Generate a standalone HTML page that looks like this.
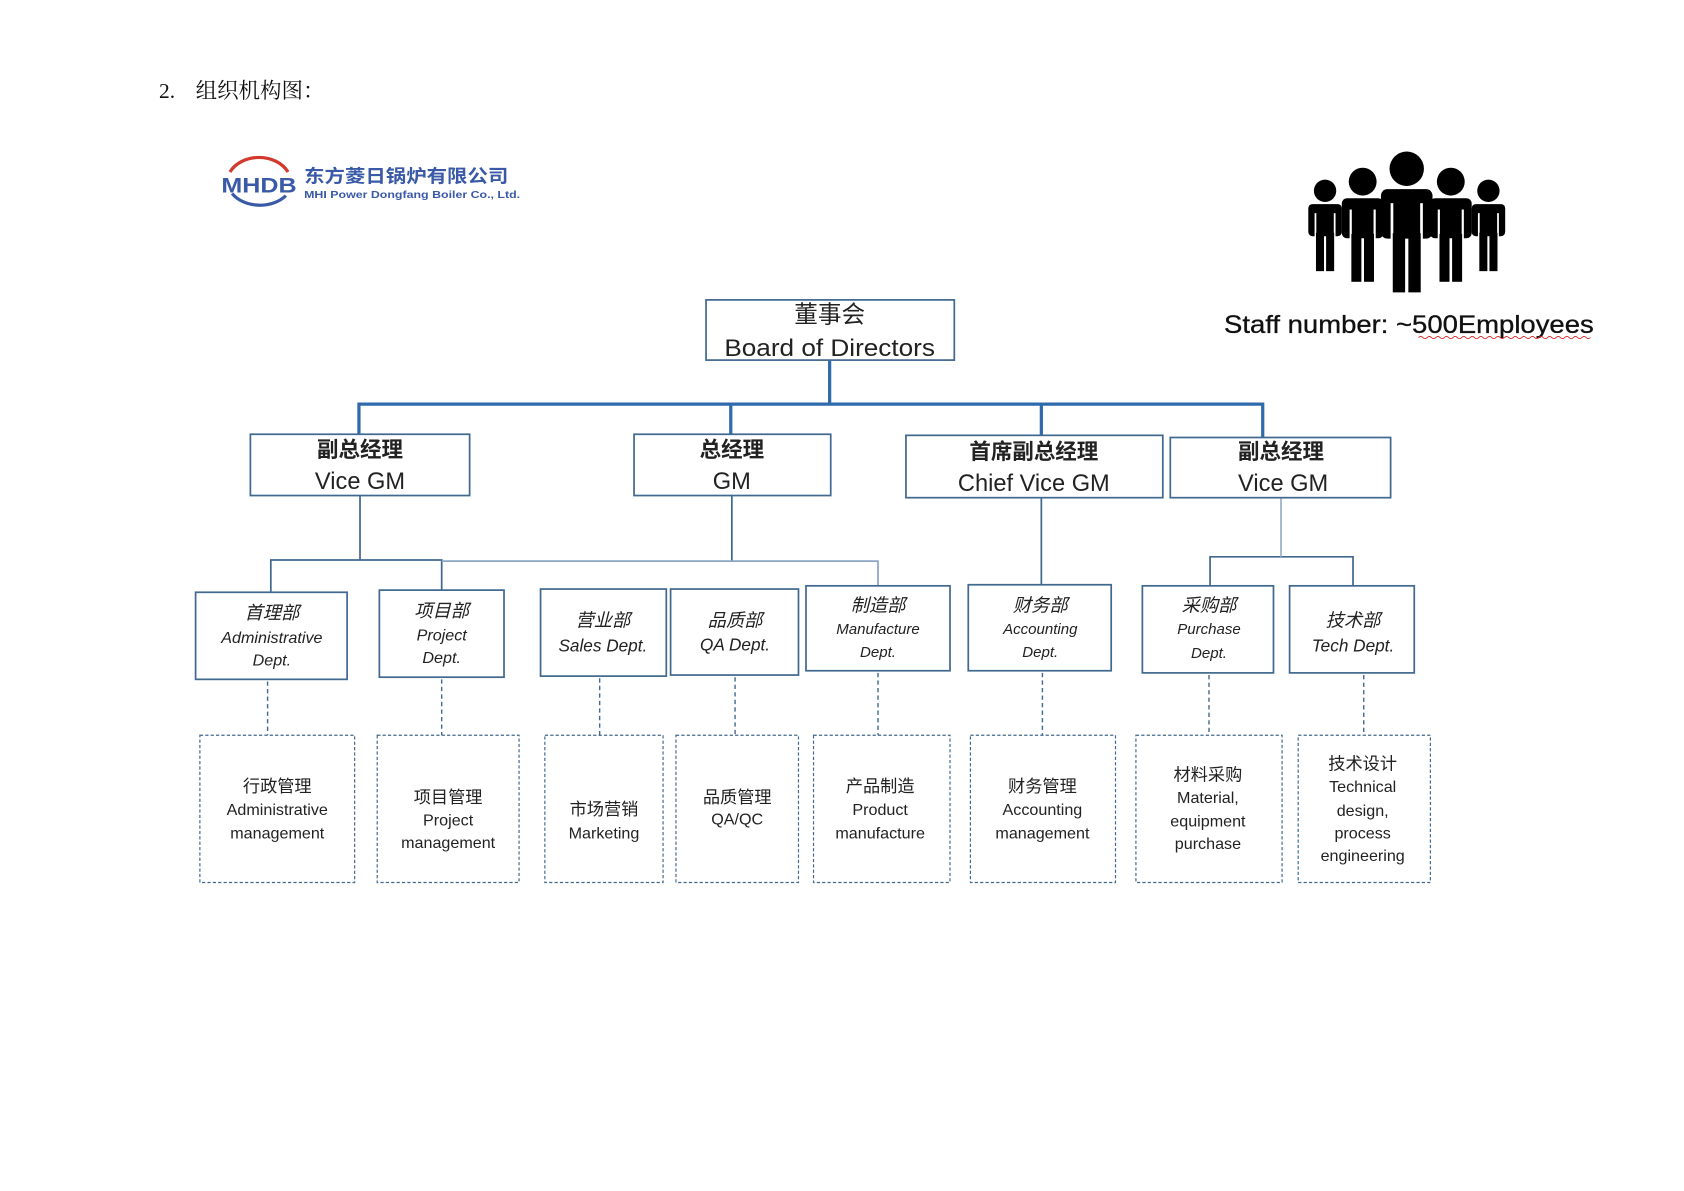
<!DOCTYPE html>
<html><head><meta charset="utf-8"><style>
html,body{margin:0;padding:0;background:#fff;}
svg{display:block;}
.cn{font-family:"Liberation Sans","Noto Sans CJK SC",sans-serif;}
</style></head><body>
<svg width="1684" height="1191" viewBox="0 0 1567 1108" preserveAspectRatio="none" xmlns="http://www.w3.org/2000/svg">
<defs>
<g id="p">
<circle cx="0" cy="0" r="16" fill="#000"/>
<rect x="-24" y="19" width="48" height="46" rx="6" fill="#000"/>
<rect x="-15" y="32" width="2.5" height="34" fill="#fff"/>
<rect x="12.5" y="32" width="2.5" height="34" fill="#fff"/>
<rect x="-13" y="60" width="11.5" height="55" fill="#000"/>
<rect x="1.5" y="60" width="11.5" height="55" fill="#000"/>
</g>
</defs>
<text x="148" y="91" font-family="'Liberation Serif','Noto Serif CJK SC',serif" font-size="20" fill="#111">2.</text>
<text x="182" y="91" font-family="'Liberation Serif','Noto Serif CJK SC',serif" font-size="20" fill="#111">组织机构图：</text>

<!-- logo -->
<path d="M214 160 A30 24 0 0 1 268 160" fill="none" stroke="#d23a2e" stroke-width="3"/>
<path d="M216 180 A30 22 0 0 0 266 182" fill="none" stroke="#3a5aa8" stroke-width="3"/>
<text x="206" y="179" font-family="'Liberation Sans',sans-serif" font-weight="bold" font-size="20" fill="#3a5aa8" textLength="70" lengthAdjust="spacingAndGlyphs">MHDB</text>
<text x="283" y="170" class="cn" font-weight="bold" font-size="17" fill="#3a5aa8" textLength="190" lengthAdjust="spacingAndGlyphs">东方菱日锅炉有限公司</text>
<text x="283" y="184" font-family="'Liberation Sans',sans-serif" font-weight="bold" font-size="9" fill="#3a5aa8" textLength="201" lengthAdjust="spacingAndGlyphs">MHI Power Dongfang Boiler Co., Ltd.</text>

<!-- people -->
<use href="#p" transform="translate(1233,177.5) scale(0.65)"/>
<use href="#p" transform="translate(1385,177.5) scale(0.65)"/>
<use href="#p" transform="translate(1268,169) scale(0.81)"/>
<use href="#p" transform="translate(1350,169) scale(0.81)"/>
<use href="#p" transform="translate(1309,157)"/>
<text x="1139" y="310" font-family="'Liberation Sans',sans-serif" font-size="23" fill="#111" stroke="#111" stroke-width="0.3" textLength="344" lengthAdjust="spacingAndGlyphs">Staff number: ~500Employees</text>
<path d="M1320 314 q2 -2 4 0 t4 0 t4 0 t4 0 t4 0 t4 0 t4 0 t4 0 t4 0 t4 0 t4 0 t4 0 t4 0 t4 0 t4 0 t4 0 t4 0 t4 0 t4 0 t4 0 t4 0 t4 0 t4 0 t4 0 t4 0 t4 0 t4 0 t4 0 t4 0 t4 0 t4 0 t4 0 t4 0 t4 0 t4 0 t4 0 t4 0 t4 0 t4 0 t4 0" fill="none" stroke="#d22" stroke-width="0.8"/>

<!-- top connectors -->
<g stroke="#2f6aad" stroke-width="3" fill="none">
<path d="M772 335 V376 M334 404 V376 H1175 V407 M680 376 V404 M969 376 V405"/>
</g>
<g stroke="#41688f" stroke-width="1.6" fill="none">
<path d="M335 461 V521 M252 551 V521 H411 V549"/>
<path d="M681 461 V522 M969 463 V544"/>
<path d="M1126 545 V518 H1259 V545"/>
</g>
<path d="M411 522 H817 V545" stroke="#8aa6c4" stroke-width="1.6" fill="none"/>
<path d="M1192 463 V518" stroke="#9ab0c8" stroke-width="1.6" fill="none"/>

<!-- boxes level1/2 -->
<g fill="#fff" stroke="#41688f" stroke-width="1.6">
<rect x="657" y="279" width="231" height="56"/>
<rect x="233" y="404" width="204" height="57"/>
<rect x="590" y="404" width="183" height="57"/>
<rect x="843" y="405" width="239" height="58"/>
<rect x="1089" y="407" width="205" height="56"/>
</g>
<g class="cn" text-anchor="middle" fill="#222">
<text x="772" y="300" font-size="22">董事会</text>
<text x="772" y="331" font-size="22" font-family="'Liberation Sans',sans-serif" textLength="196" lengthAdjust="spacingAndGlyphs">Board of Directors</text>
<text x="335" y="425" font-size="20" font-weight="bold">副总经理</text>
<text x="335" y="455" font-size="22">Vice GM</text>
<text x="681" y="425" font-size="20" font-weight="bold">总经理</text>
<text x="681" y="455" font-size="22">GM</text>
<text x="962" y="427" font-size="20" font-weight="bold">首席副总经理</text>
<text x="962" y="457" font-size="22">Chief Vice GM</text>
<text x="1192" y="427" font-size="20" font-weight="bold">副总经理</text>
<text x="1194" y="457" font-size="22">Vice GM</text>
</g>

<!-- level3 -->
<g fill="#fff" stroke="#41688f" stroke-width="1.6">
<rect x="182" y="551" width="141" height="81"/>
<rect x="353" y="549" width="116" height="81"/>
<rect x="503" y="548" width="117" height="81"/>
<rect x="624" y="548" width="119" height="80"/>
<rect x="750" y="545" width="134" height="79"/>
<rect x="901" y="544" width="133" height="80"/>
<rect x="1063" y="545" width="122" height="81"/>
<rect x="1200" y="545" width="116" height="81"/>
</g>
<g class="cn" text-anchor="middle" fill="#222" font-style="italic">
<text x="253" y="576" font-size="17">首理部</text>
<text x="253" y="598" font-size="15">Administrative</text>
<text x="253" y="619" font-size="15">Dept.</text>
<text x="411" y="574" font-size="17">项目部</text>
<text x="411" y="596" font-size="15">Project</text>
<text x="411" y="617" font-size="15">Dept.</text>
<text x="561" y="583" font-size="17">营业部</text>
<text x="561" y="606" font-size="16">Sales Dept.</text>
<text x="684" y="583" font-size="17">品质部</text>
<text x="684" y="605" font-size="16">QA Dept.</text>
<text x="817" y="569" font-size="17">制造部</text>
<text x="817" y="590" font-size="14">Manufacture</text>
<text x="817" y="611" font-size="14">Dept.</text>
<text x="968" y="569" font-size="17">财务部</text>
<text x="968" y="590" font-size="14">Accounting</text>
<text x="968" y="611" font-size="14">Dept.</text>
<text x="1125" y="569" font-size="17">采购部</text>
<text x="1125" y="590" font-size="14">Purchase</text>
<text x="1125" y="612" font-size="14">Dept.</text>
<text x="1259" y="583" font-size="17">技术部</text>
<text x="1259" y="606" font-size="16">Tech Dept.</text>
</g>

<!-- dashed connectors -->
<g stroke="#41688f" stroke-width="1.3" stroke-dasharray="4,3" fill="none">
<path d="M249 634 V684 M411 632 V684 M558 631 V684 M684 630 V684 M817 626 V684 M970 626 V684 M1125 628 V684 M1269 628 V684"/>
</g>
<g fill="#fff" stroke="#41688f" stroke-width="1.1" stroke-dasharray="3,2">
<rect x="186" y="684" width="144" height="137"/>
<rect x="351" y="684" width="132" height="137"/>
<rect x="507" y="684" width="110" height="137"/>
<rect x="629" y="684" width="114" height="137"/>
<rect x="757" y="684" width="127" height="137"/>
<rect x="903" y="684" width="135" height="137"/>
<rect x="1057" y="684" width="136" height="137"/>
<rect x="1208" y="684" width="123" height="137"/>
</g>
<g class="cn" text-anchor="middle" fill="#222" font-size="15">
<text x="258" y="737" font-size="16">行政管理</text>
<text x="258" y="758">Administrative</text>
<text x="258" y="780">management</text>
<text x="417" y="747" font-size="16">项目管理</text>
<text x="417" y="768">Project</text>
<text x="417" y="789">management</text>
<text x="562" y="758" font-size="16">市场营销</text>
<text x="562" y="780">Marketing</text>
<text x="686" y="747" font-size="16">品质管理</text>
<text x="686" y="767">QA/QC</text>
<text x="819" y="737" font-size="16">产品制造</text>
<text x="819" y="758">Product</text>
<text x="819" y="780">manufacture</text>
<text x="970" y="737" font-size="16">财务管理</text>
<text x="970" y="758">Accounting</text>
<text x="970" y="780">management</text>
<text x="1124" y="726" font-size="16">材料采购</text>
<text x="1124" y="747">Material,</text>
<text x="1124" y="769">equipment</text>
<text x="1124" y="790">purchase</text>
<text x="1268" y="716" font-size="16">技术设计</text>
<text x="1268" y="737">Technical</text>
<text x="1268" y="759">design,</text>
<text x="1268" y="780">process</text>
<text x="1268" y="801">engineering</text>
</g>
</svg>
</body></html>
